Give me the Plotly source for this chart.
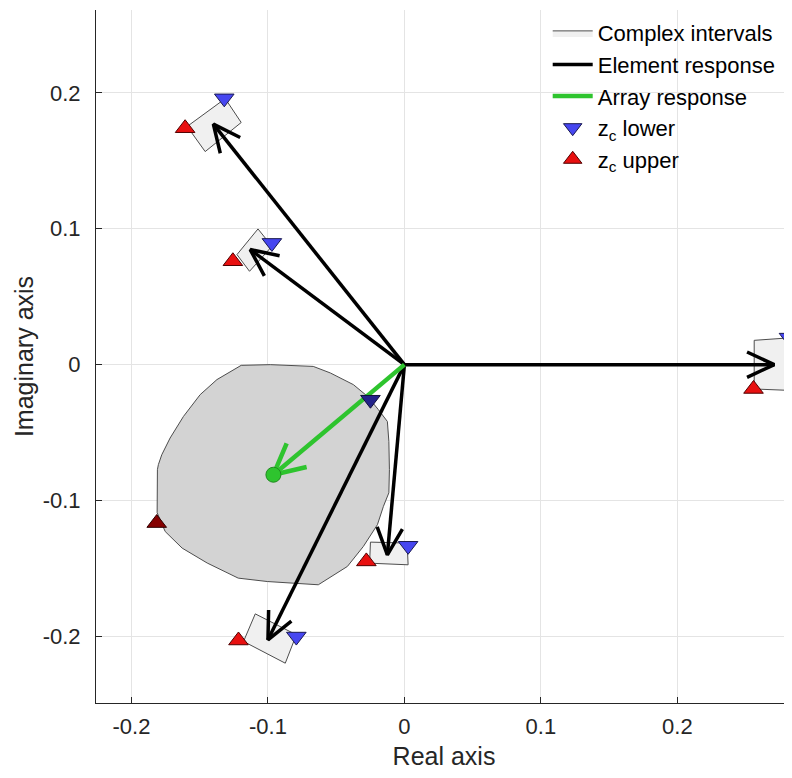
import numpy as np
import plotly.graph_objects as go

# ---------------- data ----------------
element_re = [-0.140, -0.113, 0.271, -0.0125, -0.100]
element_im = [0.177, 0.0847, 0.0, -0.140, -0.2025]

array_re = -0.096
array_im = -0.081

# element complex intervals (quadrilaterals)
box_re = [
    [-0.1313, -0.1196, -0.1460, -0.1592],
    [-0.1073, -0.0971, -0.1135, -0.1227],
    [0.2563, 0.2818, 0.2812, 0.2563],
    [-0.0249, 0.0020, 0.0027, -0.0255],
    [-0.1093, -0.0792, -0.0873, -0.1179],
]
box_im = [
    [0.1958, 0.1782, 0.1568, 0.1753],
    [0.0999, 0.0871, 0.0687, 0.0810],
    [0.0179, 0.0197, -0.0189, -0.0179],
    [-0.1306, -0.1313, -0.1473, -0.1461],
    [-0.1834, -0.1988, -0.2197, -0.2037],
]

# array complex interval (polygon)
array_box_re = [-0.1196, -0.0983, -0.0668, -0.0543, -0.0374, -0.0271, -0.0191, -0.0125,
                -0.0114, -0.0110, -0.0114, -0.0154, -0.0198, -0.0301, -0.0418, -0.0631,
                -0.1005, -0.1218, -0.1445, -0.1629, -0.1753, -0.1812, -0.1810, -0.1803,
                -0.1778, -0.1717, -0.1619, -0.1497, -0.1374]
array_box_im = [-0.0005, 0.0000, -0.0013, -0.0061, -0.0147, -0.0233, -0.0331, -0.0418,
                -0.0565, -0.0773, -0.0943, -0.1043, -0.1178, -0.1338, -0.1485, -0.1620,
                -0.1596, -0.1571, -0.1460, -0.1350, -0.1228, -0.1090, -0.0773, -0.0736,
                -0.0663, -0.0540, -0.0381, -0.0221, -0.0110]

zc_lower_re = [-0.132, -0.0971, 0.2818, 0.0027, -0.0792]
zc_lower_im = [0.196, 0.0896, 0.0199, -0.1333, -0.2001]
zc_upper_re = [-0.1607, -0.1257, 0.2558, -0.0279, -0.1216]
zc_upper_im = [0.174, 0.0761, -0.0179, -0.1448, -0.2030]

array_zc_lower = (-0.0249, -0.0258)
array_zc_upper = (-0.1815, -0.1166)

x_ticks = [-0.2, -0.1, 0, 0.1, 0.2]
x_ticktext = ["-0.2", "-0.1", "0", "0.1", "0.2"]
y_ticks = [-0.2, -0.1, 0, 0.1, 0.2]
y_ticktext = ["-0.2", "-0.1", "0", "0.1", "0.2"]

FONT = "Liberation Sans, Arial, sans-serif"
TXT = "#262626"


def arrow_path(xt, yt, head_len=0.022, ang_deg=25):
    L = np.hypot(xt, yt)
    ux, uy = xt / L, yt / L
    xs, ys = [0, xt, None], [0, yt, None]
    a = np.deg2rad(ang_deg)
    pts = []
    for s in (1, -1):
        c, si = np.cos(s * a), np.sin(s * a)
        rx = ux * c - uy * si
        ry = ux * si + uy * c
        pts.append((xt - head_len * rx, yt - head_len * ry))
    xs += [pts[0][0], xt, pts[1][0]]
    ys += [pts[0][1], yt, pts[1][1]]
    return xs, ys


fig = go.Figure()

# array interval
fig.add_trace(go.Scatter(
    x=array_box_re + [array_box_re[0]], y=array_box_im + [array_box_im[0]],
    mode="lines", fill="toself", fillcolor="#d3d3d3",
    line=dict(color="#4d4d4d", width=1), showlegend=False, hoverinfo="skip"))

# element intervals
for i in range(len(box_re)):
    fig.add_trace(go.Scatter(
        x=box_re[i] + [box_re[i][0]], y=box_im[i] + [box_im[i][0]],
        mode="lines", fill="toself", fillcolor="#f0f0f0",
        line=dict(color="#4d4d4d", width=1),
        name="Complex intervals", legendgroup="ci", showlegend=(i == 0),
        legendrank=1, hoverinfo="skip"))

# element arrows
for i in range(len(element_re)):
    xs, ys = arrow_path(element_re[i], element_im[i])
    fig.add_trace(go.Scatter(
        x=xs, y=ys, mode="lines", line=dict(color="black", width=3.5),
        name="Element response", legendgroup="er", showlegend=(i == 0),
        legendrank=2, hoverinfo="skip"))

# array arrow
xs, ys = arrow_path(array_re, array_im, head_len=0.025, ang_deg=27)
fig.add_trace(go.Scatter(
    x=xs, y=ys, mode="lines", line=dict(color="#2ec42e", width=4.5),
    name="Array response", legendrank=3, hoverinfo="skip"))
fig.add_trace(go.Scatter(
    x=[array_re], y=[array_im], mode="markers",
    marker=dict(symbol="circle", size=15, color="#2ec42e",
                line=dict(color="#1f8a1f", width=1)),
    showlegend=False, hoverinfo="skip"))

# z_c markers
fig.add_trace(go.Scatter(
    x=zc_lower_re, y=zc_lower_im, mode="markers",
    marker=dict(symbol="triangle-down", size=17, color="#4646f0",
                line=dict(color="#1a1a50", width=1)),
    name="z<sub>c</sub> lower", legendrank=4, hoverinfo="skip"))
fig.add_trace(go.Scatter(
    x=zc_upper_re, y=zc_upper_im, mode="markers",
    marker=dict(symbol="triangle-up", size=17, color="#e81010",
                line=dict(color="#500000", width=1)),
    name="z<sub>c</sub> upper", legendrank=5, hoverinfo="skip"))
fig.add_trace(go.Scatter(
    x=[array_zc_lower[0]], y=[array_zc_lower[1]], mode="markers",
    marker=dict(symbol="triangle-down", size=17, color="#23238a",
                line=dict(color="#10103a", width=1)),
    showlegend=False, hoverinfo="skip"))
fig.add_trace(go.Scatter(
    x=[array_zc_upper[0]], y=[array_zc_upper[1]], mode="markers",
    marker=dict(symbol="triangle-up", size=17, color="#850000",
                line=dict(color="#300000", width=1)),
    showlegend=False, hoverinfo="skip"))

# page adds an 8px body margin; keep the page within the window (no scrollbar)
fig.update_layout(
    width=784, height=762,
    margin=dict(l=88, r=0, t=2, b=67),
    paper_bgcolor="white", plot_bgcolor="white",
    font=dict(family=FONT, color=TXT, size=22),
    showlegend=True,
    legend=dict(x=0.649, y=0.997, xanchor="left", yanchor="top",
                bgcolor="rgba(0,0,0,0)", borderwidth=0,
                font=dict(family=FONT, size=22, color="black"),
                tracegroupgap=0, itemwidth=40),
    xaxis=dict(range=[-0.226, 0.284], tickvals=x_ticks, ticktext=x_ticktext,
               automargin=False,
               showgrid=True, gridcolor="#e4e4e4", gridwidth=1, zeroline=False,
               showline=True, linecolor=TXT, linewidth=1, mirror=False,
               ticks="inside", ticklen=6, tickcolor=TXT, ticklabelstandoff=4,
               tickfont=dict(family=FONT, size=22, color=TXT),
               title=dict(text="Real axis", font=dict(family=FONT, size=25, color=TXT),
                          standoff=14)),
    yaxis=dict(range=[-0.249, 0.261], tickvals=y_ticks, ticktext=y_ticktext,
               automargin=False,
               showgrid=True, gridcolor="#e4e4e4", gridwidth=1, zeroline=False,
               showline=True, linecolor=TXT, linewidth=1, mirror=False,
               ticks="inside", ticklen=6, tickcolor=TXT, ticklabelstandoff=10,
               tickfont=dict(family=FONT, size=22, color=TXT),
               title=dict(text="Imaginary axis", font=dict(family=FONT, size=25, color=TXT),
                          standoff=1)),
)

fig.write_html("out.html")
